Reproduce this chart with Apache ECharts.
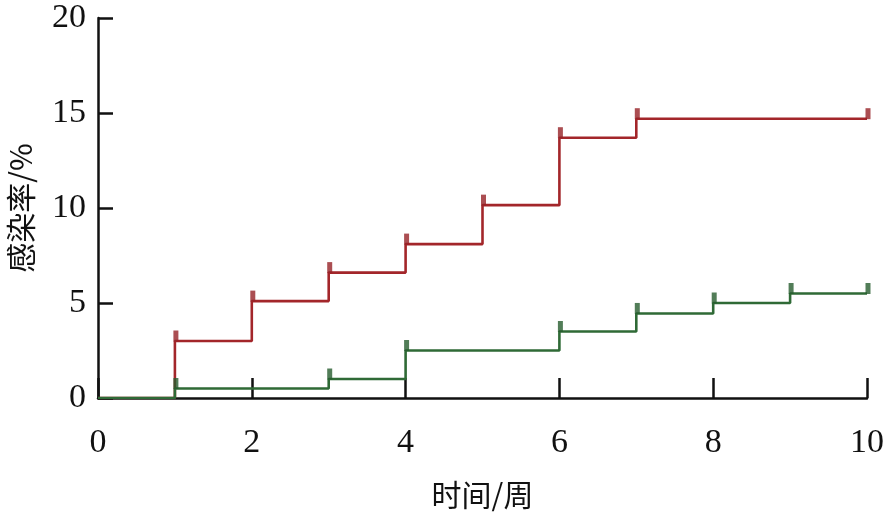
<!DOCTYPE html>
<html>
<head>
<meta charset="utf-8">
<script src="https://cdn.jsdelivr.net/npm/echarts@6/dist/echarts.min.js"></script>
<style>
html,body{margin:0;padding:0;background:#fff;}
#chart{width:893px;height:516px;}
</style>
</head>
<body>
<div id="chart"></div>
<script>
// Data (time in weeks, infection rate in %)
const redTimes   = [0, 1, 2, 3, 4, 5, 6, 7, 10];
const redValues  = [0, 3.0, 5.1, 6.6, 8.1, 10.15, 13.7, 14.7, 14.7];
const greenTimes = [0, 1, 3, 4, 6, 7, 8, 9, 10];
const greenValues= [0, 0.5, 1.0, 2.5, 3.5, 4.45, 5.0, 5.5, 5.5];
// censor marks (times)
const redCensor   = [1, 2, 3, 4, 5, 6, 7, 10];
const greenCensor = [1, 3, 4, 6, 7, 8, 9, 10];
const xTicks = [0, 2, 4, 6, 8, 10];
const yTicks = [0, 5, 10, 15, 20];
const xName = '时间/周';
const yName = '感染率/%';

function pairs(t, v){ return t.map((x,i)=>[x, v[i]]); }
function censorPts(ct, t, v){
  return ct.map(c => { let idx = t.lastIndexOf(t.filter(x=>x<=c).pop()); return [c, v[idx]]; });
}

const RED = '#a3262a', GREEN = '#2f6a36';
const RED_M = '#962227', GREEN_M = '#275c2e';
const serif = '"Liberation Serif", "Times New Roman", serif';
const cjk = '"Noto Sans CJK SC", sans-serif';

const chart = echarts.init(document.getElementById('chart'));
chart.setOption({
  animation: false,
  backgroundColor: '#fff',
  grid: {left: 98, right: 26, top: 18, bottom: 118, containLabel: false, outerBoundsMode: 'none'},
  xAxis: {
    type: 'value', min: xTicks[0], max: xTicks[xTicks.length-1], interval: 2,
    name: xName, nameLocation: 'middle', nameGap: 82,
    nameTextStyle: {fontFamily: cjk, fontSize: 30, color: '#111'},
    axisLine: {lineStyle: {color: '#111', width: 2.5}},
    axisTick: {inside: true, length: 20, lineStyle: {color: '#111', width: 2.5}},
    axisLabel: {fontFamily: serif, fontSize: 34, color: '#111', margin: 28},
    splitLine: {show: false}
  },
  yAxis: {
    type: 'value', min: yTicks[0], max: yTicks[yTicks.length-1], interval: 5,
    name: yName, nameLocation: 'middle', nameGap: 62, nameRotate: 90,
    nameTextStyle: {fontFamily: cjk, fontSize: 30, color: '#111'},
    axisLine: {show: true, lineStyle: {color: '#111', width: 2.5}},
    axisTick: {show: true, inside: true, length: 15, lineStyle: {color: '#111', width: 2.5}},
    axisLabel: {fontFamily: serif, fontSize: 34, color: '#111', margin: 12},
    splitLine: {show: false}
  },
  series: [
    {type: 'line', step: 'end', data: pairs(redTimes, redValues), showSymbol: false,
     lineStyle: {color: RED, width: 2.6}, z: 2},
    {type: 'line', step: 'end', data: pairs(greenTimes, greenValues), showSymbol: false,
     lineStyle: {color: GREEN, width: 2.6}, z: 3},
    {type: 'scatter', data: censorPts(redCensor, redTimes, redValues), symbol: 'rect',
     symbolSize: [5, 11], symbolOffset: [1, -5], itemStyle: {color: RED_M}, z: 4},
    {type: 'scatter', data: censorPts(greenCensor, greenTimes, greenValues), symbol: 'rect',
     symbolSize: [5, 11], symbolOffset: [1, -5], itemStyle: {color: GREEN_M}, z: 5}
  ]
});
</script>
</body>
</html>
